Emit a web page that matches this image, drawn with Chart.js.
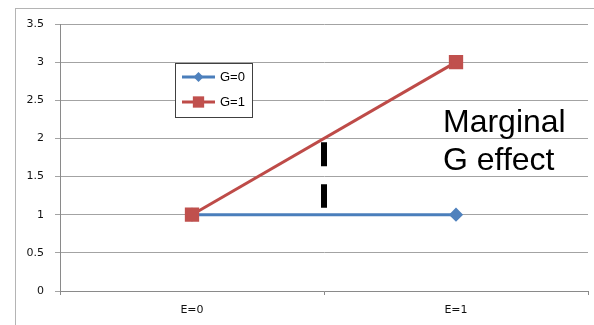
<!DOCTYPE html>
<html>
<head>
<meta charset="utf-8">
<script src="https://cdn.jsdelivr.net/npm/chart.js@4/dist/chart.umd.min.js"></script>
<style>
  html, body { margin: 0; padding: 0; background: #ffffff; }
  #wrap { position: relative; width: 594px; height: 325px; overflow: hidden; }
  #frame { position: absolute; left: 15px; top: 8px; width: 620px; height: 400px;
           border: 1px solid #b4b4b4; box-sizing: border-box; }
  #c { position: absolute; left: 0; top: 0; }
</style>
</head>
<body>
<div id="wrap">
  <div id="frame"></div>
  <canvas id="c" width="594" height="325"></canvas>
</div>
<script>
// Categories and series
const categories = ['E=0', 'E=1'];
const seriesNames = ['G=0', 'G=1'];
const g0Values = [1, 1];
const g1Values = [1, 3];
const yTicks = [0, 0.5, 1, 1.5, 2, 2.5, 3, 3.5];

// Gap marker between the two lines at the midpoint, and its caption
const gapRange = [1.09, 1.95];
const gapCaption = ['Marginal', 'G effect'];

const BLUE = '#4a7ebb';
const RED = '#be4b48';
const GRID = '#a3a3a3';
const AXIS = '#8a8a8a';

const legendBox = {
  id: 'legendBox',
  afterDatasetsDraw(chart) {
    const ctx = chart.ctx;
    const x = 175, y = 63, w = 77, h = 54;
    ctx.save();
    ctx.fillStyle = '#ffffff';
    ctx.fillRect(x, y, w, h);
    ctx.strokeStyle = '#404040';
    ctx.lineWidth = 1;
    ctx.strokeRect(x + 0.5, y + 0.5, w, h);
    const rows = [77, 102];
    chart.data.datasets.forEach((ds, i) => {
      const ry = rows[i];
      const cx = 198.5;
      ctx.strokeStyle = ds.borderColor;
      ctx.lineWidth = 3;
      ctx.beginPath();
      ctx.moveTo(182, ry);
      ctx.lineTo(215, ry);
      ctx.stroke();
      ctx.fillStyle = ds.pointBackgroundColor;
      ctx.beginPath();
      const r = ds.pointRadius;
      if (ds.pointStyle === 'rect') {
        const s = Math.SQRT1_2 * r;
        ctx.rect(cx - s, ry - s, 2 * s, 2 * s);
      } else {
        ctx.moveTo(cx, ry - r);
        ctx.lineTo(cx + r, ry);
        ctx.lineTo(cx, ry + r);
        ctx.lineTo(cx - r, ry);
        ctx.closePath();
      }
      ctx.fill();
      ctx.fillStyle = '#000000';
      ctx.font = '13px "Liberation Sans", Arial, sans-serif';
      ctx.textBaseline = 'middle';
      ctx.textAlign = 'left';
      ctx.fillText(ds.label, 220, ry + 0.5);
    });
    ctx.restore();
  }
};

const gapMarker = {
  id: 'gapMarker',
  afterDatasetsDraw(chart) {
    const ctx = chart.ctx;
    const xs = chart.scales.x, ys = chart.scales.y;
    const mx = (xs.getPixelForValue(0) + xs.getPixelForValue(1)) / 2;
    ctx.save();
    ctx.strokeStyle = '#000000';
    ctx.lineWidth = 6;
    ctx.setLineDash([24, 18]);
    ctx.beginPath();
    ctx.moveTo(mx, ys.getPixelForValue(gapRange[1]));
    ctx.lineTo(mx, ys.getPixelForValue(gapRange[0]));
    ctx.stroke();
    ctx.setLineDash([]);

    ctx.fillStyle = '#000000';
    ctx.font = '32px "Liberation Sans", Arial, sans-serif';
    ctx.textAlign = 'left';
    ctx.textBaseline = 'alphabetic';
    const tx = 443;
    ctx.fillText(gapCaption[0], tx, 132);
    ctx.fillText(gapCaption[1], tx, 170);
    ctx.restore();
  }
};

new Chart(document.getElementById('c'), {
  type: 'line',
  data: {
    labels: categories,
    datasets: [
      {
        label: seriesNames[0],
        data: g0Values,
        borderColor: BLUE,
        backgroundColor: BLUE,
        pointBackgroundColor: '#4f81bd',
        pointBorderColor: '#4f81bd',
        pointStyle: 'rectRot',
        pointRadius: 5,
        borderWidth: 3,
        tension: 0,
        order: 1
      },
      {
        label: seriesNames[1],
        data: g1Values,
        borderColor: RED,
        backgroundColor: RED,
        pointBackgroundColor: '#c0504d',
        pointBorderColor: '#c0504d',
        pointStyle: 'rect',
        pointRadius: 8,
        borderWidth: 3,
        tension: 0,
        order: 0
      }
    ]
  },
  options: {
    responsive: false,
    animation: false,
    devicePixelRatio: 1,
    layout: { autoPadding: false, padding: { left: 0, right: 6, top: 24, bottom: 0 } },
    plugins: { legend: { display: false }, tooltip: { enabled: false } },
    scales: {
      x: {
        type: 'category',
        offset: true,
        afterFit(scale) {
          scale.height = 34;
          scale.paddingLeft = 0;
          scale.paddingRight = 0;
        },
        grid: { offset: true, drawOnChartArea: false, drawTicks: true, tickLength: 4, color: AXIS },
        border: { display: true, color: AXIS, width: 1 },
        ticks: {
          padding: 9,
          color: '#111111',
          font: { family: '"DejaVu Sans", Verdana, sans-serif', size: 11 }
        }
      },
      y: {
        min: 0,
        max: 3.5,
        afterFit(scale) {
          scale.width = 60;
          scale.paddingTop = 0;
          scale.paddingBottom = 0;
        },
        afterBuildTicks(scale) { scale.ticks = yTicks.map(v => ({ value: v })); },
        grid: { color: GRID, drawTicks: true, tickLength: 5, lineWidth: 1 },
        border: { display: true, color: AXIS, width: 1 },
        ticks: {
          padding: 11,
          color: '#111111',
          font: { family: '"DejaVu Sans", Verdana, sans-serif', size: 11 },
          callback: v => String(v)
        }
      }
    }
  },
  plugins: [legendBox, gapMarker]
});
</script>
</body>
</html>
